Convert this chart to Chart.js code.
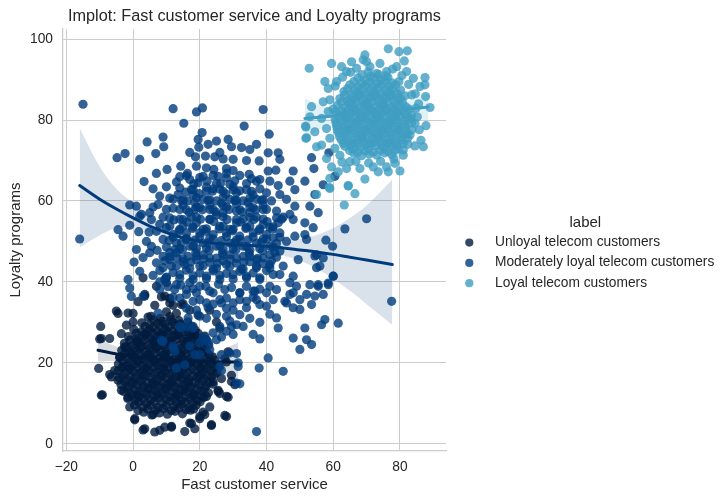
<!DOCTYPE html>
<html><head><meta charset="utf-8">
<script src="https://cdn.jsdelivr.net/npm/chart.js@4.4.0/dist/chart.umd.min.js"></script>
<style>html,body{margin:0;padding:0;background:#fff}canvas{display:block}</style>
</head><body>
<canvas id="c" width="728" height="504" style="width:728px;height:504px"></canvas>
<script>
const chartTitle = 'Implot: Fast customer service and Loyalty programs';
const xLabel = 'Fast customer service';
const yLabel = 'Loyalty programs';
const legendTitle = 'label';
const categories = ['Unloyal telecom customers', 'Moderately loyal telecom customers', 'Loyal telecom customers'];
const xTicks = [-20, 0, 20, 40, 60, 80];
const yTicks = [0, 20, 40, 60, 80, 100];

const unloyalPoints = [
[-9.7,29],[-9.5,26],[-10.3,18.6],[-9.5,12],[-7,26],[-6.5,16.5],[-5,32.8],[-4.5,32.2],[-1.5,32.3],[0,32.2],[3.5,36.5],[6.5,34.2],[1.5,35.1],[8.5,36.3],[11,35.9],[12,34.2],[10,32.6],[15,34.6],[17,33],[19.5,31.8],[23,33],[25,30.1],[26,28.5],[28.5,22.7],[27.5,21],[28,20.2],[29.5,16.9],[26.5,16.1],[24,15.3],[25.5,13.2],[28.5,11.5],[26,12.4],[27.5,7],[23,9.1],[23.5,4.5],[21,7.8],[20,6.2],[18.5,3.7],[17.5,5],[11.5,4.1],[9.5,4.1],[8,3.3],[6.5,2.9],[3.5,3.7],[0.5,6.2],[1.5,8.2],[-1,9.1],[-1.5,11.5],[-3.5,13.2],[-4.5,15.7],[-5.5,18.1],[-3,19],[-4,21.4],[-2.5,23.9],[-3.5,27.2],[-2,29.3],[0,30.1],[4.5,31.3],[13,32.2],
[-10,25.9],[-9.2,12.1],[-7,17.1],[3,41],[3.5,36.9],[7,38.9],[10,39.8],[11,34.8],[14.5,34.4],[9.5,36.5],[28,6.7],[23.5,4.7],[17,5.1],[15.5,3],[11.5,4.3],[3,3.4],[0.5,5.9],[6,7.2],[20,6.7],[21.5,7.2],[22,11.7],[25.5,12.9],[28,11.7],[30.5,14.6],[29.5,15.4],
[3.2,7.8],[5.6,7.1],[7.9,7.6],[10.3,7.3],[12.6,8.0],[14.8,7.4],[17.2,8.3],
[0.4,9.6],[2.8,9.1],[5.1,9.5],[7.4,9.0],[9.8,9.4],[12.1,9.2],[14.3,9.7],[16.7,9.0],[18.9,9.5],
[-1.6,11.2],[0.7,10.7],[3.0,11.1],[5.3,10.8],[7.7,11.3],[10.0,10.9],[12.4,11.2],[14.6,10.6],[17.0,11.1],[19.3,10.8],[21.2,11.4],
[-2.8,12.9],[-0.5,12.4],[1.8,12.8],[4.1,12.5],[6.5,13.0],[8.8,12.6],[11.2,12.9],[13.5,12.4],[15.8,12.8],[18.2,12.5],[20.4,13.0],[22.6,12.6],
[-3.6,14.6],[-1.3,14.1],[1.0,14.5],[3.3,14.2],[5.7,14.7],[8.0,14.3],[10.3,14.6],[12.7,14.1],[15.0,14.5],[17.3,14.2],[19.6,14.6],[21.9,14.3],[24.0,14.7],
[-4.2,16.3],[-1.9,15.8],[0.4,16.2],[2.7,15.9],[5.0,16.4],[7.4,16.0],[9.7,16.3],[12.0,15.8],[14.4,16.2],[16.7,15.9],[19.0,16.3],[21.3,16.0],[23.4,16.4],
[-4.5,18.0],[-2.2,17.5],[0.1,17.9],[2.4,17.6],[4.8,18.1],[7.1,17.7],[9.5,18.0],[11.8,17.5],[14.1,17.9],[16.4,17.6],[18.8,18.0],[21.1,17.7],[23.3,18.1],[25.2,17.6],
[-4.4,19.7],[-2.0,19.2],[0.3,19.6],[2.6,19.3],[5.0,19.8],[7.3,19.4],[9.6,19.7],[12.0,19.2],[14.3,19.6],[16.6,19.3],[19.0,19.7],[21.3,19.4],[23.5,19.8],[25.6,19.3],
[-4.0,21.4],[-1.7,20.9],[0.6,21.3],[2.9,21.0],[5.3,21.5],[7.6,21.1],[9.9,21.4],[12.3,20.9],[14.6,21.3],[16.9,21.0],[19.2,21.4],[21.6,21.1],[23.8,21.5],
[-3.4,23.1],[-1.1,22.6],[1.2,23.0],[3.5,22.7],[5.9,23.2],[8.2,22.8],[10.5,23.1],[12.8,22.6],[15.2,23.0],[17.5,22.7],[19.8,23.1],[22.0,22.8],
[-2.6,24.8],[-0.3,24.3],[2.0,24.7],[4.4,24.4],[6.7,24.9],[9.0,24.5],[11.4,24.8],[13.7,24.3],[16.0,24.7],[18.3,24.4],[20.6,24.8],[22.7,24.4],
[-1.4,26.5],[0.9,26.0],[3.2,26.4],[5.5,26.1],[7.9,26.6],[10.2,26.2],[12.5,26.5],[14.9,26.0],[17.2,26.4],[19.4,26.1],[21.5,26.6],
[0.2,28.2],[2.5,27.7],[4.8,28.1],[7.2,27.8],[9.5,28.3],[11.8,27.9],[14.1,28.2],[16.4,27.7],[18.6,28.1],
[2.6,29.9],[5.0,29.4],[7.3,29.8],[9.6,29.5],[12.0,30.0],[14.2,29.6],[16.4,30.1],
[5.4,31.5],[8.2,31.0],[11.0,31.4],
[1.6,12.0],[4.6,13.6],[7.2,12.1],[9.9,13.7],[12.9,12.0],[15.5,13.5],[18.0,11.9],
[0.1,15.3],[2.9,16.9],[6.0,15.2],[8.5,16.9],[11.4,15.1],[14.0,16.8],[16.6,15.1],[19.8,16.8],
[-1.0,18.6],[1.5,20.3],[4.0,18.5],[6.6,20.2],[9.2,18.7],[11.5,20.4],[14.8,18.6],[17.2,20.2],[20.4,18.6],
[-0.6,22.2],[2.2,23.8],[4.6,22.1],[7.0,23.7],[9.5,22.0],[12.0,23.8],[14.4,22.1],[17.0,23.8],[19.6,22.2],
[1.2,25.4],[3.9,27.1],[6.4,25.4],[8.9,27.1],[11.3,25.4],[13.6,27.0],[16.2,25.4],[18.5,26.9],
[4.4,8.6],[6.8,8.3],[9.1,8.7],[11.5,8.2],[13.7,8.8],[16.0,8.4],[18.2,8.6],
[1.6,10.3],[4.0,10.0],[6.3,10.4],[8.6,10.1],[11.0,10.5],[13.2,10.0],[15.5,10.3],[17.9,10.1],[20.1,10.4],
[-0.4,11.8],[1.9,11.6],[4.2,12.0],[6.5,11.7],[8.9,12.1],[11.2,11.6],[13.6,11.9],[15.8,11.7],[18.2,12.0],[20.5,11.8],
[-1.7,13.6],[0.6,13.4],[2.9,13.8],[5.3,13.5],[7.6,13.9],[10.0,13.4],[12.3,13.8],[14.7,13.4],[17.0,13.8],[19.3,13.5],[21.5,13.7],
[-2.5,15.3],[-0.2,15.0],[2.1,15.4],[4.5,15.1],[6.9,15.5],[9.2,15.1],[11.5,15.4],[13.9,15.0],[16.2,15.4],[18.5,15.1],[20.8,15.5],[23.0,15.2],
[-3.1,17.0],[-0.8,16.8],[1.5,17.2],[3.9,16.9],[6.2,17.3],[8.6,16.8],[10.9,17.2],[13.2,16.8],[15.5,17.1],[17.9,16.8],[20.2,17.2],[22.4,16.9],[24.5,17.2],
[-3.3,18.8],[-1.0,18.5],[1.3,18.9],[3.6,18.6],[6.0,19.0],[8.3,18.5],[10.7,18.9],[13.0,18.5],[15.3,18.8],[17.7,18.5],[20.0,18.9],[22.2,18.6],[24.4,18.9],
[-3.1,20.5],[-0.8,20.2],[1.5,20.6],[3.8,20.3],[6.2,20.7],[8.5,20.2],[10.8,20.6],[13.1,20.2],[15.5,20.5],[17.8,20.2],[20.1,20.6],[22.4,20.3],[24.6,20.6],
[-2.6,22.2],[-0.3,21.9],[2.0,22.3],[4.3,22.0],[6.7,22.4],[9.0,21.9],[11.3,22.3],[13.6,21.9],[16.0,22.2],[18.3,21.9],[20.6,22.3],[22.8,22.0],
[-1.9,23.9],[0.4,23.6],[2.7,24.0],[5.0,23.7],[7.4,24.1],[9.7,23.6],[12.0,24.0],[14.3,23.6],[16.7,23.9],[19.0,23.6],[21.2,24.0],
[-1.0,25.6],[1.3,25.3],[3.6,25.7],[5.9,25.4],[8.3,25.8],[10.6,25.3],[12.9,25.7],[15.2,25.3],[17.6,25.6],[19.8,25.3],[21.8,25.7],
[1.0,27.3],[3.3,27.0],[5.6,27.4],[8.0,27.1],[10.3,27.5],[12.6,27.0],[14.9,27.4],[17.3,27.0],[19.5,27.3],
[3.6,29.0],[5.9,28.7],[8.2,29.1],[10.6,28.8],[12.9,29.2],[15.2,28.7],[17.5,29.0],
[6.2,30.6],[8.8,30.3],[11.4,30.7],[13.8,30.4]
];

const moderatePoints = [
[-15,83.9],[12,82.8],[19,82],[20.8,83],[39,82.6],[15.2,79.2],[33.3,78.5],[20.7,76.9],[40.8,76.5],[4.2,74.6],[9,75.8],[19.5,75.2],[28.5,75.2],[25,74.8],[37,74],[22.5,74],[19.7,73.3],[29.5,73.4],[32.5,73.2],[35,72.7],[9.2,73.4],
[-2.4,71.7],[-4.8,70.7],[2,70.3],[6.8,71.7],[18.7,70.9],[21.7,71.1],[24.5,70.9],[27,70.4],[30,70.3],[37.8,69.9],[40.5,71.9],[43.5,71.9],[44,70.3],[19,68.6],[22,68.2],[24.2,67.8],[14.3,68.6],[10.2,67.8],[7,66.8],[3.3,64.8],[16.3,66.8],[21,66.1],[25.5,66.1],[28,65.7],[32,66.3],[34.8,66.6],[38,65.3],[40.5,67.4],[42.8,67.6],[48,67.4],[53.5,70.7],[54.2,68],[58.7,71.9],[13,64.7],[17,65.3],[19.5,64.5],
[25,64.3],[29,64.1],[34,64.3],[37,64.9],[41,64.9],[43.5,63.8],[47,64.9],[51.5,64.9],[48.5,62.8],[44,61.6],[40,62],[35.5,62.4],[31,62],[27,62.4],[22,62.4],[17.5,62.8],[13.5,61.6],[8,61.2],[12,60.4],[16.3,60],[21,60.4],[25,60],[29,60.4],[33,60],[37,60.4],[41.5,60],[46,60.4],[48.5,58.7],[53,58.7],[55.5,57.1],[54.5,61.6],[57,64],[60.5,66.1],[70,55.6],[63.5,53.1],[-1,59],[1,58.7],[7.5,59.1],[10,57.9],[5,57.1],[2.5,56.7],[14,57.9],[18.5,57.9],[23,57.9],[27,57.1],[31,57.5],[35,57.1],[39,57.9],[43,57.5],[47,56.7],
[2,56.2],[5.5,55.4],[8,54.2],[-4.5,52.9],[-3,51.3],[1.7,52.4],[4.8,52.3],[11,53.8],[15,53.8],[19,54.6],[23,55.4],[27,53.8],[31,54.6],[35,53.8],[39,54.2],[43.5,54.6],[48,55.4],[51.5,54.6],[54,53.4],[51.5,51.7],[48.5,51.3],[44,52.1],[40,51.7],[36,52.1],[32,51.3],[28,52.1],[24,51.7],[20,52.1],[16,52.1],[12,51.7],[9,50.5],[13,49.6],[17,48.8],[21,49.6],[25,48.8],[29,49.6],[33,48.8],[37,49.6],[41,48.8],[46,50],[52,50.5],[57.8,50.3],[59.8,48.8],[-16,50.6],[5.5,48.8],
[5,47.2],[9,46.3],[13,47.2],[16.5,46.3],[21,46.7],[25,45.9],[29,46.7],[33,46.3],[37,45.5],[41,46.7],[44,47.6],[49.5,45.5],[55,46.7],[57,45.9],[0.3,44.9],[7,44.7],[11.5,43.9],[15.5,44.3],[20,43.9],[24,43.1],[28,44.3],[32.5,43.1],[37,43.5],[41,44.3],[45,43.9],[48,41.4],[55,43.5],[60,41.4],[2,42.6],[6,41.6],[10,41],[14,41.8],[18,40.6],[22,41.4],[26,40.6],[30,41.8],[34,41],[38,40.6],[42,41.8],[53,39.3],[55.5,39.3],[58.5,39.7],[77.5,35.2],
[-1.5,40.6],[-1,38.5],[-0.5,36.4],[3,36.4],[8,38.1],[12.5,38.1],[16,38.1],[19,37.3],[23,37.7],[27.5,38.1],[32,37.3],[36.5,37.7],[40,37.3],[43,38.1],[47,36.9],[52,36.9],[49,38.9],[22,34.8],[26,35.6],[30,34.8],[34,35.2],[38,34.4],[42,35.6],[46,34.8],[50,35.6],
[9.5,40.6],[13,39.3],[17,39.8],[20,38.9],[16,36.9],[20,35.6],[24,37.3],[28,36],[32,37.3],[36,37.7],[37,35.6],[34,33.6],[32,31.9],[29,30.3],[26,29],[24,27.4],[22,25.7],[25,25.7],[28,27.8],[31,29.4],[30,27],[20,24.9],[18,29],[16,29],[14.5,28.6],[12,23.7],[9,25.3],[7.5,32.3],[16.5,31.1],[20,31.5],[22.5,33.6],[26.5,34.8],[40,34],[43,31.1],[43.5,28.6],[41,38.9],[44,41.8],[47,39.8],[48,37.3],[45.5,35.2],[48,33.6],[50,33.2],[48,26.1],[50,23.3],[52,25.7],[53.5,24.5],[45,17.9],[51.5,28.6],[53.5,34.4],[54.5,36.5],[55.5,38.9],[54.5,46.4],[56,43.9],[57,36.9],[56.5,29.4],[57.5,30.7],[58.5,39.3],[60,41.4],[61.5,29.8],[38,25.9],[40.5,21.2],[37.8,18.7],[37,3],[31,15],[31.5,20],[29,22.4],[26,19.1],[26.5,22],[23,23.2],
[8.5,25.6],[12,24.1],[12.5,22.8],[13,18.7],[14,29],[18,28.6],[18.5,22],[20,22],[15.5,19.5],[17,24.1],[8.7,25.3],[21,26.4],[22.5,25.1],[26.5,26.4],[26.5,18.1],[29.5,29],[31,22.3],[31.5,19.1],[32,14.8],
[11,45.5],[15,45],[19,45.5],[23,44.8],[27,45.2],[31,44.6],[35,45],[39,44.5],
[12.5,48],[16,50.5],[19,48.2],[23,50.8],[27,48],[31,50.4],[35,47.8],[39,50.6],[43,49.5],
[14,55.5],[17.5,56],[21,53],[25,56.5],[29,53],[33,55.5],[37,56],[41,53.5],[45,56],
[15,59],[19,58.5],[23,59],[27,58.8],[31,59.2],[35,58.5],[39,59],
[18,61.5],[24,63],[30,62.8],[36,61.5],[10,63.5],[6,63],[14,66],[28,68],[34,70],[30,67.5],[26,72],[17,72],
[8,42.8],[12,42.3],[16,42.9],[20,42.2],[24,42.7],[28,42.1],[32,42.6],[36,42.2],[40,42.8],
[9.5,45.2],[13.2,45.9],[17.3,44.9],[21.2,45.7],[25.3,44.6],[29.2,45.6],[33.2,44.9],[37.3,45.8],[41.5,45.2],
[7.2,47.8],[11,47.3],[14.8,47.9],[18.8,47.2],[22.8,47.8],[26.8,47.2],[30.8,47.9],[34.8,47.1],[38.8,47.7],[42.5,47.3],
[10.8,50.2],[14.5,49.7],[18.5,50.3],[22.5,49.6],[26.5,50.2],[30.5,49.7],[34.5,50.4],[38.5,49.8],[42,50.9],
[13.8,52.6],[17.8,53.2],[21.8,52.5],[25.8,53.1],[29.8,52.6],[33.8,53.2],[37.8,52.7],[41.8,53.1],
[12.2,55.3],[16.2,54.8],[20.2,55.5],[24.2,54.9],[28.2,55.4],[32.2,54.8],[36.2,55.4],[40.2,54.9],[44.5,55.5],
[16.8,57.2],[20.8,57.8],[24.8,57.3],[28.8,57.9],[32.8,57.3],[36.8,57.8],
[14.5,60.1],[18.5,59.6],[22.5,60.2],[26.5,59.5],[30.5,60.1],[34.5,59.6],[38.5,60.2],
[15.8,62.2],[19.8,61.8],[23.8,62.4],[27.8,61.7],[32,62.5],[38,63],
[18.2,64.2],[22.2,64.9],[26.2,64.3],[30.5,65],[35.5,65.5],
[10.5,38.8],[14.3,39.2],[18,38.3],[21.8,38.9],[25.6,39.4],[29.5,38.6],[34,38.9],[38,38.2],
[14,36],[18,35.2],[24,34.5],[28,33.5],[32,35.6],[36,36.2],
[10,41.2],[14,40.9],[18,41.5],[22,40.8],[26,41.6],[30,40.7],[34,41.4],[38,41],
[9,43.5],[13,43.9],[17,43.3],[21,44],[25,43.4],[29,43.8],[33,43.2],[37,43.9],[41,43.4],
[11,46.2],[15,45.7],[19,46.4],[23,45.9],[27,46.5],[31,45.8],[35,46.3],[39,45.9],[43,46.1],
[10,48.6],[14,48.2],[18,48.8],[22,48.3],[26,48.9],[30,48.1],[34,48.7],[38,48.2],[42,48.6],
[12,51],[16,50.7],[20,51.3],[24,50.6],[28,51.2],[32,50.5],[36,51.1],[40,50.6],[44,51],
[10,53.4],[14,53],[18,53.6],[22,53.1],[26,53.7],[30,53],[34,53.5],[38,53.1],[42,53.6],
[11,55.8],[15,55.4],[19,56],[23,55.5],[27,56.1],[31,55.4],[35,55.9],[39,55.5],[43,55.8],
[12,58.2],[16,57.8],[20,58.4],[24,57.9],[28,58.5],[32,57.8],[36,58.3],[40,57.9],
[11,60.7],[15,60.2],[19,60.8],[23,60.3],[27,60.9],[31,60.2],[35,60.7],[39,60.3],
[14,63.2],[18,62.8],[22,63.4],[26,62.9],[30,63.5],[34,62.8],
[16,66.2],[20,65.8],[24,66.3],[28,66.8],
[4,50],[7,52.5],[3,46],[6,58.5],[9,56],[1,48],[-1,54],[8,40],[12,36.2],[16,33.5],[19,33],[22,31],[25,32],[28,31.5],[30,33],[35,31],[38,30],[41,32],[33,29],[36,27]
];

const loyalPoints = [
[52.8,92.8],[76.5,97.6],[79.7,96.9],[82.2,97.1],[81.3,94.6],[69.5,96.1],[69,94.9],[65.5,94.4],[59.5,94],[62.5,93.2],[87.5,90.5],[86,88.3],[87.7,85.8],[89,83.1],[84.8,82.9],[87.8,78.6],[86.3,75],[84.5,73.6],[81,72.6],[80,67.4],[76.5,67.2],[73.5,67.2],[69.5,65.4],[66.5,61.8],[64.5,63.7],[63.3,59],[59,63.1],[59,65.6],[64,68],[53.5,83.3],[51.8,78.3],[51.8,75.5],[55,73.4],[53,80.8],[57.5,89.5],[58.5,87.8],[57,84.5],[54.5,77.1],[56.5,80.4],[56.5,73.8],[58,70.5],[59.5,68.4],[61.5,67.2],[84,90.3],[82,92],[79,93.2],[74,94],[76,92],[84.5,79.2],[83,76.3],[81,71.3],[78.5,69.3],[76,68.4],[72,68.4],[68,68],[65,69.7],[62,71.3],[60.5,73],[59,75.5],[58,77.9],[58.5,82.1],[59,85],[61,89.5],[64,92],[67,92.8],[71,93.2],[83.5,81.2],[83.5,86.2],[55,61.6],[87,73.4],[87.5,88.7],[70,94.4],[52,75.6],[51.7,78.5],[58.8,63.3],[64.5,63.8],
[66.2,71.8],[68.5,71.2],[70.8,71.6],[73.1,71.3],[75.4,71.9],[77.6,71.4],
[63.5,73.5],[65.8,72.9],[68.1,73.3],[70.4,73.0],[72.7,73.6],[75.0,73.1],[77.3,73.4],[79.5,72.9],
[62.4,75.1],[64.7,74.6],[67.0,75.0],[69.3,74.7],[71.6,75.2],[73.9,74.8],[76.2,75.1],[78.5,74.6],[80.6,75.0],
[61.5,76.9],[63.8,76.3],[66.1,76.7],[68.4,76.4],[70.7,76.9],[73.0,76.5],[75.3,76.8],[77.6,76.3],[79.9,76.7],[82.0,76.4],
[61.0,78.5],[63.3,78.0],[65.6,78.4],[67.9,78.1],[70.2,78.6],[72.5,78.2],[74.8,78.5],[77.1,78.0],[79.4,78.4],[81.7,78.1],
[60.6,80.2],[62.9,79.7],[65.2,80.1],[67.5,79.8],[69.8,80.3],[72.1,79.9],[74.4,80.2],[76.7,79.7],[79.0,80.1],[81.3,79.8],[83.2,80.3],
[60.8,81.9],[63.1,81.4],[65.4,81.8],[67.7,81.5],[70.0,82.0],[72.3,81.6],[74.6,81.9],[76.9,81.4],[79.2,81.8],[81.5,81.5],
[61.2,83.6],[63.5,83.1],[65.8,83.5],[68.1,83.2],[70.4,83.7],[72.7,83.3],[75.0,83.6],[77.3,83.1],[79.6,83.5],[81.8,83.2],
[62.0,85.3],[64.3,84.8],[66.6,85.2],[68.9,84.9],[71.2,85.4],[73.5,85.0],[75.8,85.3],[78.1,84.8],[80.3,85.2],
[63.2,87.0],[65.5,86.5],[67.8,86.9],[70.1,86.6],[72.4,87.1],[74.7,86.7],[77.0,87.0],[79.2,86.5],
[65.0,88.7],[67.3,88.2],[69.6,88.6],[71.9,88.3],[74.2,88.8],[76.5,88.4],[78.6,88.7],
[67.4,90.4],[69.7,89.9],[72.0,90.3],[74.3,90.0],[76.4,90.5],[70.5,91.9],[73.0,91.5],
[64.5,77.5],[67,79.2],[69.5,77.5],[72,79.2],[74.5,77.5],[77,79.2],[79.5,77.5],
[63.5,80.9],[66,82.6],[68.5,80.9],[71,82.6],[73.5,80.9],[76,82.6],[78.5,80.9],
[65,84.3],[67.5,86],[70,84.3],[72.5,86],[75,84.3],[77.5,86],
[66,74.2],[68.7,75.9],[71.2,74.2],[73.7,75.9],[76.2,74.2],
[64.9,72.5],[67.3,72.0],[69.6,72.4],[71.9,72.1],[74.2,72.6],[76.5,72.2],[78.6,72.5],
[63.0,74.2],[65.3,73.8],[67.6,74.1],[69.9,73.9],[72.2,74.4],[74.5,73.9],[76.8,74.2],[79.0,73.8],[81.0,74.2],
[61.9,75.9],[64.2,75.4],[66.5,75.8],[68.8,75.5],[71.1,76.0],[73.4,75.6],[75.7,75.9],[78.0,75.4],[80.3,75.8],[82.3,75.5],
[61.2,77.6],[63.5,77.2],[65.8,77.5],[68.1,77.2],[70.4,77.7],[72.7,77.3],[75.0,77.6],[77.3,77.1],[79.6,77.5],[81.9,77.2],[83.6,77.6],
[60.8,79.3],[63.1,78.9],[65.4,79.2],[67.7,78.9],[70.0,79.4],[72.3,79.0],[74.6,79.3],[76.9,78.8],[79.2,79.2],[81.5,78.9],[83.5,79.3],
[61.7,81.0],[64.0,80.6],[66.3,80.9],[68.6,80.6],[70.9,81.1],[73.2,80.7],[75.5,81.0],[77.8,80.5],[80.1,80.9],[82.3,80.6],
[60.0,82.7],[62.3,82.3],[64.6,82.6],[66.9,82.3],[69.2,82.8],[71.5,82.4],[73.8,82.7],[76.1,82.2],[78.4,82.6],[80.6,82.3],[82.7,82.7],
[62.4,84.4],[64.7,84.0],[67.0,84.3],[69.3,84.0],[71.6,84.5],[73.9,84.1],[76.2,84.4],[78.5,83.9],[80.8,84.3],
[63.4,86.1],[65.7,85.7],[68.0,86.0],[70.3,85.7],[72.6,86.2],[74.9,85.8],[77.2,86.1],[79.5,85.6],[81.5,86.0],
[64.3,87.8],[66.6,87.4],[68.9,87.7],[71.2,87.4],[73.5,87.9],[75.8,87.5],[78.0,87.8],[80.2,87.4],
[66.2,89.5],[68.5,89.1],[70.8,89.4],[73.1,89.1],[75.4,89.6],[77.6,89.2],[79.7,89.5],
[68.6,91.2],[71.2,90.8],[73.6,91.2],[75.8,90.9],
[62.8,90.6],[65.2,91.8],[60.6,88.4],[77.8,92.6],[80.6,91.0],[82.6,88.8],[84.6,86.5],[85.6,84.0],[85.2,80.8],[85.8,77.6],[62.6,69.6],[66.8,69.8],[70.6,69.4],[74.2,69.8],[78.2,70.4],[82.4,74.0]
];

// regression fits and confidence bands
const unloyalFitX  = [-10.5, -5, 0, 5, 10, 15, 20, 25, 31.5];
const unloyalFit   = [23.1, 22.2, 21.6, 21.1, 20.8, 20.5, 20.3, 20.2, 20.2];
const unloyalUpper = [26.0, 24.0, 22.8, 21.9, 21.6, 21.5, 21.7, 22.6, 25.0];
const unloyalLower = [20.3, 20.5, 20.5, 20.3, 20.0, 19.5, 18.9, 17.8, 15.5];

const moderateFitX  = [-16, -10, -5, 0, 5, 10, 15, 20, 25, 30, 35, 40, 45, 50, 55, 60, 65, 70, 77.7];
const moderateFit   = [63.8, 60.4, 58.0, 55.8, 53.8, 52.2, 50.9, 50.0, 49.5, 49.2, 49.0, 48.8, 48.4, 47.9, 47.4, 46.8, 46.1, 45.4, 44.3];
const moderateUpper = [78.0, 68.5, 63.0, 59.5, 56.5, 54.3, 52.5, 51.3, 50.6, 50.3, 50.2, 50.2, 50.3, 50.7, 51.6, 53.3, 55.8, 58.9, 65.3];
const moderateLower = [48.5, 51.5, 53.3, 53.5, 52.3, 50.9, 49.6, 48.9, 48.5, 48.2, 47.9, 47.4, 46.5, 45.2, 43.3, 40.8, 37.8, 34.5, 29.4];

const loyalFitX  = [51.5, 60, 70, 80, 88.5];
const loyalFit   = [80.4, 81.0, 81.7, 82.5, 83.2];
const loyalUpper = [85.3, 82.6, 82.6, 84.0, 86.6];
const loyalLower = [75.3, 79.3, 80.8, 81.0, 79.8];

const FONT = '"Liberation Sans", Arial, Helvetica, sans-serif';
const TEXT = '#262626';
const GRID = '#cccccc';
const baseRGB = ['1,27,62', '0,60,124', '63,158,194'];

const groups = [
  {points: unloyalPoints, fx: unloyalFitX, fy: unloyalFit, up: unloyalUpper, lo: unloyalLower},
  {points: moderatePoints, fx: moderateFitX, fy: moderateFit, up: moderateUpper, lo: moderateLower},
  {points: loyalPoints, fx: loyalFitX, fy: loyalFit, up: loyalUpper, lo: loyalLower}
];
const toXY = arr => arr.map(p => ({x: p[0], y: p[1]}));
const curve = (xs, ys) => xs.map((x, i) => ({x: x, y: ys[i]}));

const datasets = [];
let ord = 100;
groups.forEach((g, gi) => {
  const rgb = baseRGB[gi];
  datasets.push({type: 'scatter', label: categories[gi], data: toXY(g.points),
    pointRadius: 4.6, pointHoverRadius: 4.6, pointBorderWidth: 0, borderWidth: 0,
    backgroundColor: 'rgba(' + rgb + ',0.8)', pointBackgroundColor: 'rgba(' + rgb + ',0.8)',
    borderColor: 'rgba(0,0,0,0)', order: ord--});
  const upIdx = datasets.length;
  datasets.push({type: 'line', label: '', data: curve(g.fx, g.up), borderWidth: 0, borderColor: 'rgba(0,0,0,0)',
    pointRadius: 0, fill: upIdx + 1, backgroundColor: 'rgba(' + rgb + ',0.15)', tension: 0.35, order: ord--});
  datasets.push({type: 'line', label: '', data: curve(g.fx, g.lo), borderWidth: 0, borderColor: 'rgba(0,0,0,0)',
    pointRadius: 0, fill: false, tension: 0.35, order: ord--});
  datasets.push({type: 'line', label: '', data: curve(g.fx, g.fy), borderColor: 'rgb(' + rgb + ')', borderWidth: 3,
    pointRadius: 0, fill: false, tension: 0.35, borderCapStyle: 'round', order: ord--});
});

const decor = {
  id: 'decor',
  afterDraw(chart) {
    const ctx = chart.ctx, ca = chart.chartArea;
    ctx.save();
    ctx.fillStyle = TEXT;
    ctx.textBaseline = 'alphabetic';
    ctx.textAlign = 'center';
    ctx.font = '16.25px ' + FONT;
    ctx.fillText(chartTitle, (ca.left + ca.right) / 2, ca.top - 7.6);
    ctx.font = '15px ' + FONT;
    ctx.fillText(legendTitle, 585.3, 226.6);
    ctx.textAlign = 'left';
    ctx.font = '13.75px ' + FONT;
    categories.forEach((c, i) => {
      const y = 245.9 + i * 20.3;
      ctx.fillStyle = 'rgba(' + baseRGB[i] + ',0.8)';
      ctx.beginPath();
      ctx.arc(469.3, y - 3.3, 4.1, 0, Math.PI * 2);
      ctx.fill();
      ctx.fillStyle = TEXT;
      ctx.fillText(c, 495, y);
    });
    ctx.restore();
  }
};

const fmt = v => (v < 0 ? '\u2212' + Math.abs(v) : String(v));

new Chart(document.getElementById('c'), {
  type: 'scatter',
  data: {datasets: datasets},
  plugins: [decor],
  options: {
    responsive: false,
    animation: false,
    events: [],
    layout: {padding: {top: 29, right: 282, left: 0, bottom: 0}},
    plugins: {legend: {display: false}, tooltip: {enabled: false}, title: {display: false}},
    scales: {
      x: {
        type: 'linear', position: 'bottom', min: -21, max: 93.8,
        afterBuildTicks: s => { s.ticks = xTicks.map(v => ({value: v})); },
        afterFit: s => { s.height = 53; },
        grid: {color: GRID, lineWidth: 1, drawTicks: false},
        border: {color: GRID, width: 1.25},
        ticks: {color: TEXT, font: {family: FONT, size: 13.75}, padding: 8, maxRotation: 0, autoSkip: false, callback: v => fmt(v)},
        title: {display: true, text: xLabel, color: TEXT, font: {family: FONT, size: 15}, padding: {top: 0, bottom: 10}}
      },
      y: {
        type: 'linear', position: 'left', min: -1.8, max: 102.5,
        afterBuildTicks: s => { s.ticks = yTicks.map(v => ({value: v})); },
        afterFit: s => { s.width = 63; },
        grid: {color: GRID, lineWidth: 1, drawTicks: false},
        border: {color: GRID, width: 1.25},
        ticks: {color: TEXT, font: {family: FONT, size: 13.75}, padding: 10, autoSkip: false, callback: v => fmt(v)},
        title: {display: true, text: yLabel, color: TEXT, font: {family: FONT, size: 15}, padding: {top: 6.5, bottom: 0}}
      }
    }
  }
});
</script>
</body></html>
